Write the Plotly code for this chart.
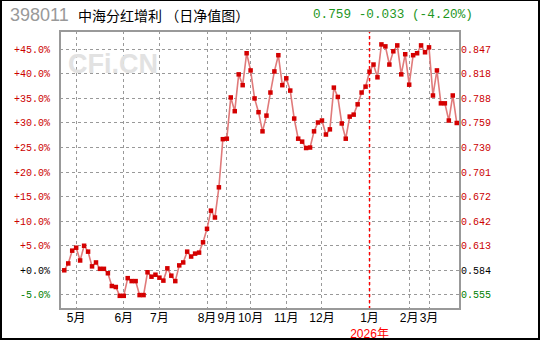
import plotly.graph_objects as go

# ---- data (percent change vs. start, one point per period) ----
pct_values = [
    0.0, 1.4, 4.0, 4.6, 2.0, 5.0, 3.8, 0.8, 1.6, 0.3,
    0.3, -0.6, -3.2, -3.4, -5.2, -5.2, -1.6, -2.2, -2.2, -5.05,
    -5.05, -0.4, -1.3, -0.9, -1.5, -2.1, 0.4, -1.1, -2.2, 1.0,
    1.6, 3.8, 2.8, 3.4, 3.6, 5.7, 8.45, 12.15, 10.75, 16.9,
    26.7, 26.8, 35.2, 32.4, 39.9, 37.7, 44.2, 40.7, 35.0, 32.2,
    28.3, 31.5, 36.2, 40.5, 43.8, 37.7, 39.1, 36.6, 30.9, 26.8,
    26.2, 24.9, 25.0, 28.3, 30.1, 30.5, 27.65, 28.7, 37.2, 35.3,
    29.9, 26.8, 31.3, 31.7, 33.8, 36.2, 37.4, 40.45, 41.9, 39.3,
    46.0, 45.6, 41.9, 44.6, 45.8, 39.9, 44.0, 37.8, 43.8, 44.2,
    45.8, 44.4, 45.4, 35.6, 40.7, 34.0, 34.0, 30.5, 35.6, 30.0,
]
x_index = list(range(len(pct_values)))

month_tick_index = [3, 15, 24, 36, 41, 47, 56, 65, 77, 87, 92]
month_tick_labels = ["5月", "6月", "7月", "8月", "9月", "10月", "11月", "12月",
                     "1月<br><span style='color:#ff0000'>2026年</span>", "2月", "3月"]
year_break_index = 77

pct_ticks = [-5, 0, 5, 10, 15, 20, 25, 30, 35, 40, 45]
pct_tick_labels = ["-5.0%", "+0.0%", "+5.0%", "+10.0%", "+15.0%", "+20.0%",
                   "+25.0%", "+30.0%", "+35.0%", "+40.0%", "+45.0%"]
nav_tick_labels = ["0.555", "0.584", "0.613", "0.642", "0.672", "0.701",
                   "0.730", "0.759", "0.788", "0.818", "0.847"]

title_code = "398011"
title_name = "中海分红增利 （日净值图）"
title_quote = "0.759 -0.033 (-4.20%)"

RED = "#cc0000"
GREEN = "#008000"


def colorize(vals, labels):
    out = []
    for v, t in zip(vals, labels):
        c = RED if v > 0 else ("#000000" if v == 0 else GREEN)
        out.append(f"<span style='color:{c}'>{t}</span>")
    return out


YR = [-7.88, 48.73]
XR = [-1.08, 99.82]

fig = go.Figure()
fig.add_trace(go.Scatter(
    x=x_index, y=pct_values, mode="lines+markers",
    line=dict(color="#e07a7a", width=1.6),
    marker=dict(symbol="square", size=4.5, color="#d40000"),
    hoverinfo="skip", showlegend=False,
))
# invisible trace for right axis
fig.add_trace(go.Scatter(x=[x_index[0]], y=[pct_values[0]], yaxis="y2",
                         mode="markers", marker=dict(opacity=0),
                         hoverinfo="skip", showlegend=False))

mono = "Liberation Mono, DejaVu Sans Mono, monospace"

fig.update_layout(
    width=540, height=340,
    margin=dict(l=60, r=80, t=31, b=31),
    paper_bgcolor="white", plot_bgcolor="white",
    xaxis=dict(range=XR, tickmode="array", tickvals=month_tick_index,
               ticktext=month_tick_labels, showgrid=True, gridcolor="#999999",
               griddash="dot", gridwidth=1, zeroline=False, showline=False,
               ticks="", tickangle=0, automargin=False,
               tickfont=dict(family="Liberation Sans, Noto Sans CJK SC",
                             size=12, color="#000000"),
               fixedrange=True),
    yaxis=dict(range=YR, tickmode="array", tickvals=pct_ticks,
               ticktext=colorize(pct_ticks, pct_tick_labels), automargin=False,
               showgrid=True, gridcolor="#999999", griddash="dot", gridwidth=1,
               zeroline=False, showline=False, ticks="", ticklabelstandoff=9,
               tickfont=dict(family=mono, size=10)),
    yaxis2=dict(range=YR, overlaying="y", side="right", tickmode="array",
                tickvals=pct_ticks, ticktext=colorize(pct_ticks, nav_tick_labels),
                showgrid=False, zeroline=False, showline=False, ticks="",
                automargin=False,
                ticklabelstandoff=0, tickfont=dict(family=mono, size=10)),
)

# red dotted year-break line
fig.add_shape(type="line", xref="x", yref="paper", x0=year_break_index,
              x1=year_break_index, y0=0, y1=1,
              line=dict(color="#ff0000", width=1.5, dash="dot"), layer="above")
# plot frame
fig.add_shape(type="rect", xref="paper", yref="paper", x0=0, x1=1, y0=0, y1=1,
              line=dict(color="#999999", width=2), layer="above")
# outer frame
PW, PH = 400.0, 278.0
fig.add_shape(type="rect", xref="paper", yref="paper",
              x0=(1 - 60) / PW, x1=(539 - 60) / PW,
              y0=(309 - 339) / PH, y1=(309 - 0) / PH,
              line=dict(color="#000000", width=2), layer="above")


def px(xp):
    return (xp - 60) / PW


def py(yp):
    return (309 - yp) / PH


fig.add_annotation(text=title_code, xref="paper", yref="paper", x=px(8), y=py(15),
                   xanchor="left", yanchor="middle", showarrow=False,
                   font=dict(family="Liberation Sans, Arial", size=18, color="#999999"))
fig.add_annotation(text=title_name, xref="paper", yref="paper", x=px(76), y=py(15),
                   xanchor="left", yanchor="middle", showarrow=False,
                   font=dict(family="Noto Sans CJK SC", size=14, color="#000000"))
fig.add_annotation(text=title_quote, xref="paper", yref="paper", x=px(311), y=py(15),
                   xanchor="left", yanchor="middle", showarrow=False,
                   font=dict(family=mono, size=12.7, color="#1e961e"))
fig.add_annotation(text="<b>CFi.CN</b>", xref="paper", yref="paper", x=px(66), y=py(64),
                   xanchor="left", yanchor="middle", showarrow=False,
                   font=dict(family="Liberation Sans, Arial", size=27, color="#e2e2e2"))

fig.write_html("out.html")
